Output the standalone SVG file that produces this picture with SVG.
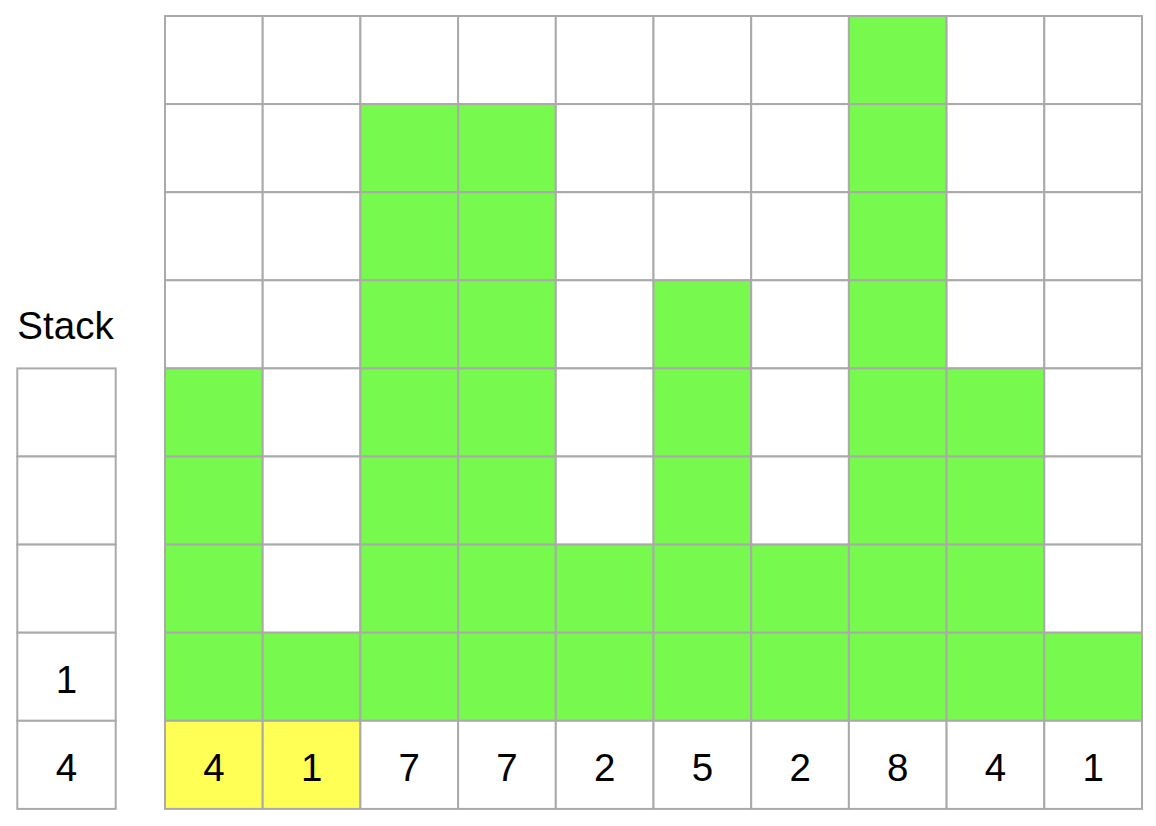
<svg xmlns="http://www.w3.org/2000/svg" width="1156" height="826" viewBox="0 0 1156 826">
<style>
.c{stroke:#aaaaaa;stroke-width:2;fill:#ffffff}
.g{fill:#78f94d}
.y{fill:#ffff55}
.t{font-family:"Liberation Sans",Arial,sans-serif;font-size:38.5px;fill:#000;text-anchor:middle}
</style>
<rect width="1156" height="826" fill="#ffffff"/>
<text class="t" x="65.5" y="339">Stack</text>
<g id="stack">
<rect class="c" x="17.3" y="368.4" width="98.4" height="88.1"/>
<rect class="c" x="17.3" y="456.5" width="98.4" height="88.1"/>
<rect class="c" x="17.3" y="544.6" width="98.4" height="88.1"/>
<rect class="c" x="17.3" y="632.7" width="98.4" height="88.1"/>
<rect class="c" x="17.3" y="720.8" width="98.4" height="88.1"/>
<text class="t" x="66.5" y="692.5">1</text>
<text class="t" x="66.5" y="780.5">4</text>
</g>
<g id="grid">
<g id="col0">
<rect class="c" x="165" y="16" width="97.7" height="88.1"/>
<rect class="c" x="165" y="104.1" width="97.7" height="88.1"/>
<rect class="c" x="165" y="192.2" width="97.7" height="88.1"/>
<rect class="c" x="165" y="280.3" width="97.7" height="88.1"/>
<rect class="c g" x="165" y="368.4" width="97.7" height="88.1"/>
<rect class="c g" x="165" y="456.5" width="97.7" height="88.1"/>
<rect class="c g" x="165" y="544.6" width="97.7" height="88.1"/>
<rect class="c g" x="165" y="632.7" width="97.7" height="88.1"/>
<rect class="c y" x="165" y="720.8" width="97.7" height="88.1"/>
<text class="t" x="213.9" y="780.5">4</text>
</g>
<g id="col1">
<rect class="c" x="262.7" y="16" width="97.7" height="88.1"/>
<rect class="c" x="262.7" y="104.1" width="97.7" height="88.1"/>
<rect class="c" x="262.7" y="192.2" width="97.7" height="88.1"/>
<rect class="c" x="262.7" y="280.3" width="97.7" height="88.1"/>
<rect class="c" x="262.7" y="368.4" width="97.7" height="88.1"/>
<rect class="c" x="262.7" y="456.5" width="97.7" height="88.1"/>
<rect class="c" x="262.7" y="544.6" width="97.7" height="88.1"/>
<rect class="c g" x="262.7" y="632.7" width="97.7" height="88.1"/>
<rect class="c y" x="262.7" y="720.8" width="97.7" height="88.1"/>
<text class="t" x="311.6" y="780.5">1</text>
</g>
<g id="col2">
<rect class="c" x="360.4" y="16" width="97.7" height="88.1"/>
<rect class="c g" x="360.4" y="104.1" width="97.7" height="88.1"/>
<rect class="c g" x="360.4" y="192.2" width="97.7" height="88.1"/>
<rect class="c g" x="360.4" y="280.3" width="97.7" height="88.1"/>
<rect class="c g" x="360.4" y="368.4" width="97.7" height="88.1"/>
<rect class="c g" x="360.4" y="456.5" width="97.7" height="88.1"/>
<rect class="c g" x="360.4" y="544.6" width="97.7" height="88.1"/>
<rect class="c g" x="360.4" y="632.7" width="97.7" height="88.1"/>
<rect class="c" x="360.4" y="720.8" width="97.7" height="88.1"/>
<text class="t" x="409.3" y="780.5">7</text>
</g>
<g id="col3">
<rect class="c" x="458.1" y="16" width="97.7" height="88.1"/>
<rect class="c g" x="458.1" y="104.1" width="97.7" height="88.1"/>
<rect class="c g" x="458.1" y="192.2" width="97.7" height="88.1"/>
<rect class="c g" x="458.1" y="280.3" width="97.7" height="88.1"/>
<rect class="c g" x="458.1" y="368.4" width="97.7" height="88.1"/>
<rect class="c g" x="458.1" y="456.5" width="97.7" height="88.1"/>
<rect class="c g" x="458.1" y="544.6" width="97.7" height="88.1"/>
<rect class="c g" x="458.1" y="632.7" width="97.7" height="88.1"/>
<rect class="c" x="458.1" y="720.8" width="97.7" height="88.1"/>
<text class="t" x="507" y="780.5">7</text>
</g>
<g id="col4">
<rect class="c" x="555.8" y="16" width="97.7" height="88.1"/>
<rect class="c" x="555.8" y="104.1" width="97.7" height="88.1"/>
<rect class="c" x="555.8" y="192.2" width="97.7" height="88.1"/>
<rect class="c" x="555.8" y="280.3" width="97.7" height="88.1"/>
<rect class="c" x="555.8" y="368.4" width="97.7" height="88.1"/>
<rect class="c" x="555.8" y="456.5" width="97.7" height="88.1"/>
<rect class="c g" x="555.8" y="544.6" width="97.7" height="88.1"/>
<rect class="c g" x="555.8" y="632.7" width="97.7" height="88.1"/>
<rect class="c" x="555.8" y="720.8" width="97.7" height="88.1"/>
<text class="t" x="604.7" y="780.5">2</text>
</g>
<g id="col5">
<rect class="c" x="653.5" y="16" width="97.7" height="88.1"/>
<rect class="c" x="653.5" y="104.1" width="97.7" height="88.1"/>
<rect class="c" x="653.5" y="192.2" width="97.7" height="88.1"/>
<rect class="c g" x="653.5" y="280.3" width="97.7" height="88.1"/>
<rect class="c g" x="653.5" y="368.4" width="97.7" height="88.1"/>
<rect class="c g" x="653.5" y="456.5" width="97.7" height="88.1"/>
<rect class="c g" x="653.5" y="544.6" width="97.7" height="88.1"/>
<rect class="c g" x="653.5" y="632.7" width="97.7" height="88.1"/>
<rect class="c" x="653.5" y="720.8" width="97.7" height="88.1"/>
<text class="t" x="702.4" y="780.5">5</text>
</g>
<g id="col6">
<rect class="c" x="751.2" y="16" width="97.7" height="88.1"/>
<rect class="c" x="751.2" y="104.1" width="97.7" height="88.1"/>
<rect class="c" x="751.2" y="192.2" width="97.7" height="88.1"/>
<rect class="c" x="751.2" y="280.3" width="97.7" height="88.1"/>
<rect class="c" x="751.2" y="368.4" width="97.7" height="88.1"/>
<rect class="c" x="751.2" y="456.5" width="97.7" height="88.1"/>
<rect class="c g" x="751.2" y="544.6" width="97.7" height="88.1"/>
<rect class="c g" x="751.2" y="632.7" width="97.7" height="88.1"/>
<rect class="c" x="751.2" y="720.8" width="97.7" height="88.1"/>
<text class="t" x="800.1" y="780.5">2</text>
</g>
<g id="col7">
<rect class="c g" x="848.9" y="16" width="97.7" height="88.1"/>
<rect class="c g" x="848.9" y="104.1" width="97.7" height="88.1"/>
<rect class="c g" x="848.9" y="192.2" width="97.7" height="88.1"/>
<rect class="c g" x="848.9" y="280.3" width="97.7" height="88.1"/>
<rect class="c g" x="848.9" y="368.4" width="97.7" height="88.1"/>
<rect class="c g" x="848.9" y="456.5" width="97.7" height="88.1"/>
<rect class="c g" x="848.9" y="544.6" width="97.7" height="88.1"/>
<rect class="c g" x="848.9" y="632.7" width="97.7" height="88.1"/>
<rect class="c" x="848.9" y="720.8" width="97.7" height="88.1"/>
<text class="t" x="897.8" y="780.5">8</text>
</g>
<g id="col8">
<rect class="c" x="946.6" y="16" width="97.7" height="88.1"/>
<rect class="c" x="946.6" y="104.1" width="97.7" height="88.1"/>
<rect class="c" x="946.6" y="192.2" width="97.7" height="88.1"/>
<rect class="c" x="946.6" y="280.3" width="97.7" height="88.1"/>
<rect class="c g" x="946.6" y="368.4" width="97.7" height="88.1"/>
<rect class="c g" x="946.6" y="456.5" width="97.7" height="88.1"/>
<rect class="c g" x="946.6" y="544.6" width="97.7" height="88.1"/>
<rect class="c g" x="946.6" y="632.7" width="97.7" height="88.1"/>
<rect class="c" x="946.6" y="720.8" width="97.7" height="88.1"/>
<text class="t" x="995.5" y="780.5">4</text>
</g>
<g id="col9">
<rect class="c" x="1044.3" y="16" width="97.7" height="88.1"/>
<rect class="c" x="1044.3" y="104.1" width="97.7" height="88.1"/>
<rect class="c" x="1044.3" y="192.2" width="97.7" height="88.1"/>
<rect class="c" x="1044.3" y="280.3" width="97.7" height="88.1"/>
<rect class="c" x="1044.3" y="368.4" width="97.7" height="88.1"/>
<rect class="c" x="1044.3" y="456.5" width="97.7" height="88.1"/>
<rect class="c" x="1044.3" y="544.6" width="97.7" height="88.1"/>
<rect class="c g" x="1044.3" y="632.7" width="97.7" height="88.1"/>
<rect class="c" x="1044.3" y="720.8" width="97.7" height="88.1"/>
<text class="t" x="1093.2" y="780.5">1</text>
</g>
</g>
</svg>
